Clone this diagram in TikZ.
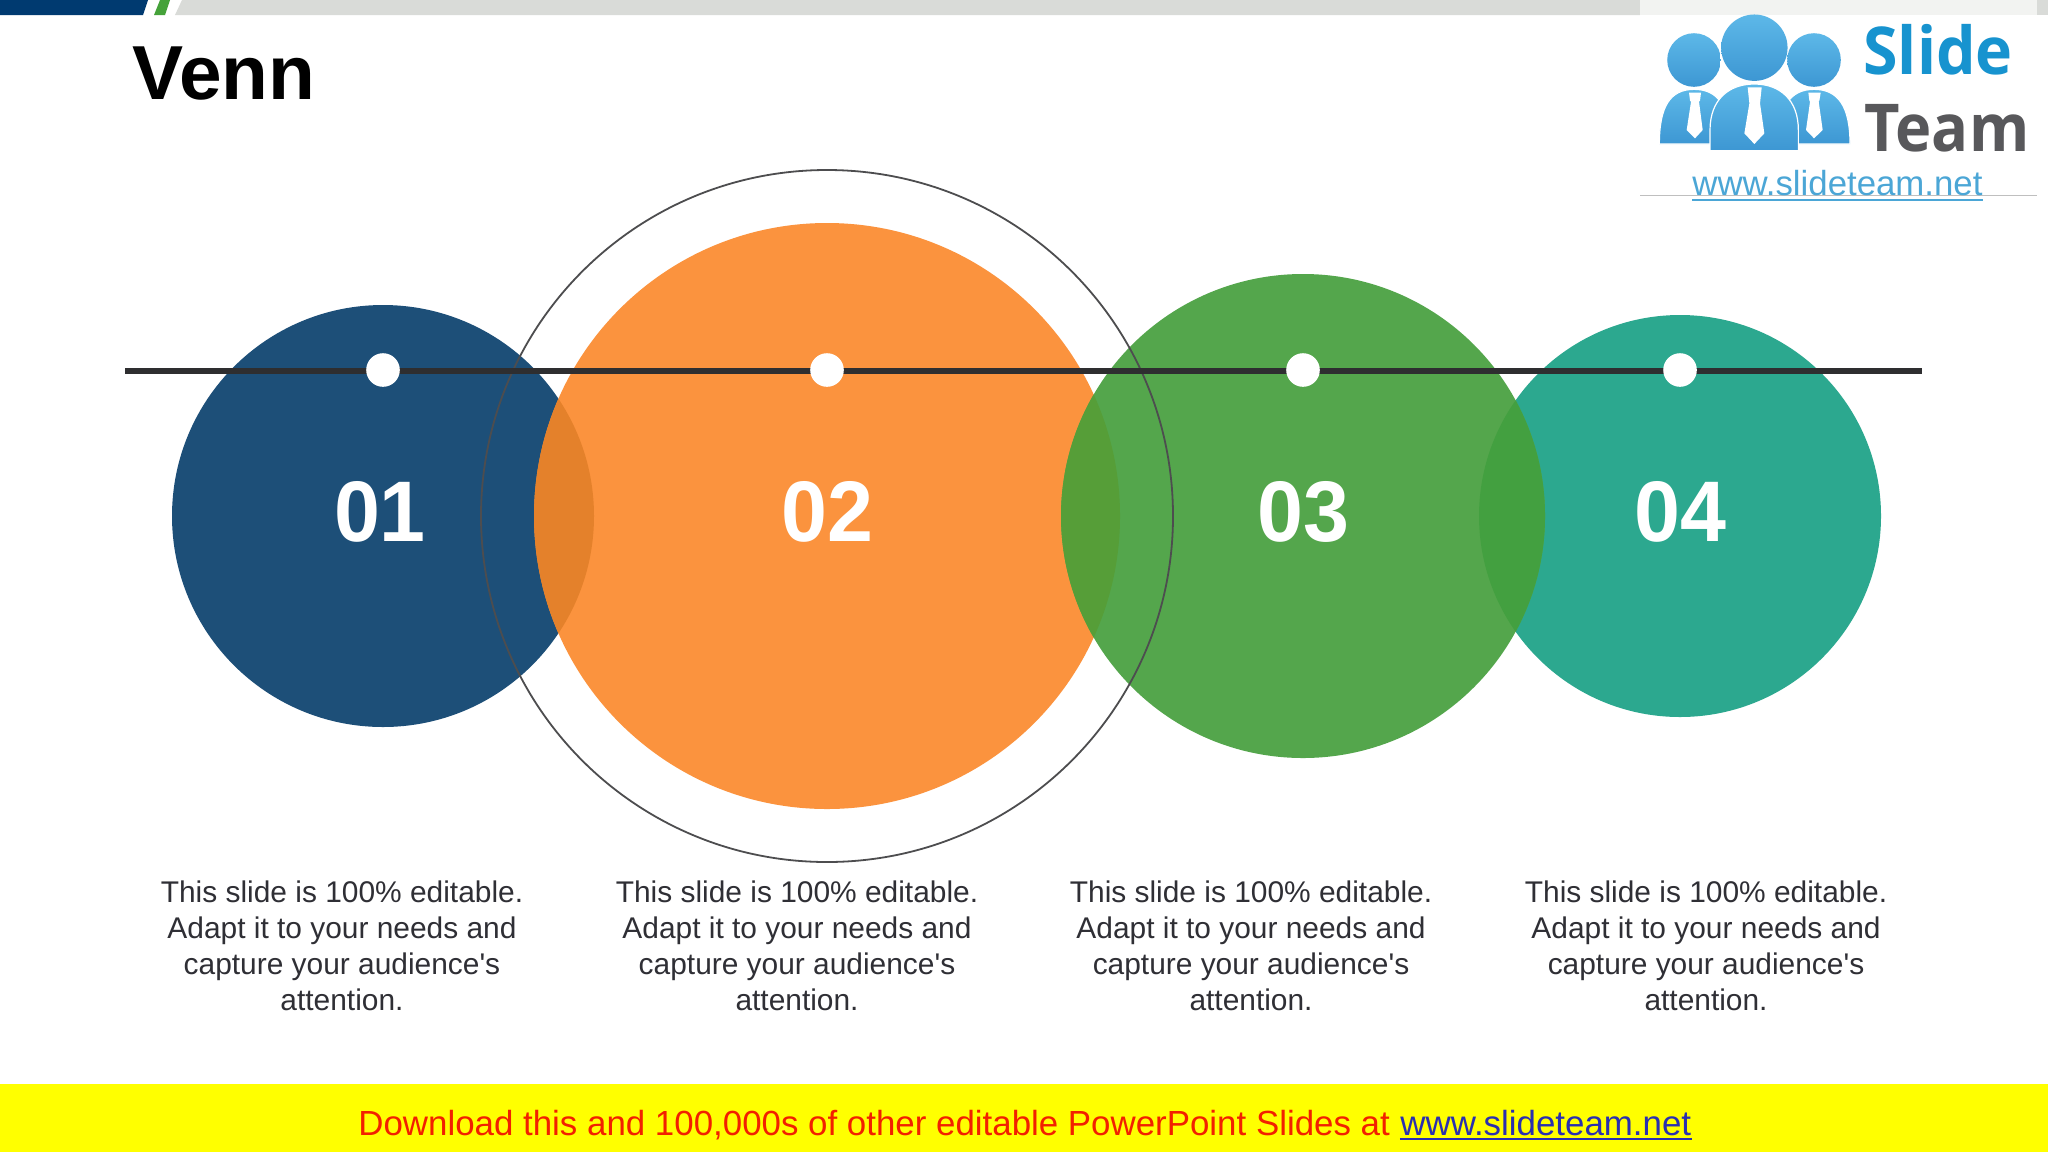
\documentclass[tikz,border=0pt]{standalone}
\usepackage{fontspec}
\setmainfont{Liberation Sans}
\newfontfamily\plainfont{Liberation Sans}
\newfontfamily\logofont{Open Sans}
\definecolor{navy}{HTML}{1D4F78}
\definecolor{topnavy}{HTML}{003A70}
\definecolor{topgreen}{HTML}{45A23A}
\definecolor{topgrey}{HTML}{D9DBD8}
\definecolor{orangeC}{HTML}{FB933E}
\definecolor{orangeNavy}{HTML}{E4812B}
\definecolor{greenC}{HTML}{54A64C}
\definecolor{greenOrange}{HTML}{569E38}
\definecolor{tealC}{HTML}{2CA88F}
\definecolor{greenTeal}{HTML}{43A040}
\definecolor{inkline}{HTML}{2E2E30}
\definecolor{bodyink}{HTML}{2F2F35}
\definecolor{logolight}{HTML}{5DB8E8}
\definecolor{logodark}{HTML}{3D97D3}
\definecolor{logoslide}{HTML}{1793CF}
\definecolor{logoteam}{HTML}{58585B}
\definecolor{urlblue}{HTML}{4BA6D6}
\definecolor{footyellow}{HTML}{FFFF00}
\definecolor{footred}{HTML}{F22000}
\definecolor{footblue}{HTML}{2A2FB0}
\tikzset{
  numlabel/.style={text=white,font=\fontsize{43}{48}\selectfont\bfseries,inner sep=0pt,xscale=.96,transform shape},
  bodytext/.style={text=bodyink,font=\plainfont\fontsize{14.95}{17.85}\selectfont,align=center,anchor=base,inner sep=0pt},
  dotmark/.style={fill=white},
  head/.style={top color=logolight,bottom color=logodark,draw=none},
  torso/.style={top color=logolight,bottom color=logodark,draw=white,line width=.6pt},
  tie/.style={fill=white,draw=none},
  footfont/.style={inner sep=0pt,anchor=base west,font=\fontsize{17.44}{20}\selectfont}
}
\begin{document}
\begin{tikzpicture}[x=0.5pt,y=-0.5pt]
\useasboundingbox (0,0) rectangle (2048,1152);
\fill[white] (0,0) rectangle (2048,1152);
% top band
\fill[topgrey] (182,0) -- (1640,0) -- (1640,15) -- (175,15) -- cycle;
\fill[topgrey] (2037,0) rectangle (2048,15);
\fill[topgrey!35!white] (1640,0) rectangle (2037,15);
\fill[topnavy] (0,0) -- (148,0) -- (143,15) -- (0,15) -- cycle;
\fill[topgreen] (160,0) -- (170,0) -- (165,15) -- (154,15) -- cycle;
% title
\node[anchor=base west,inner sep=0pt,font=\fontsize{38.3}{44}\selectfont\bfseries,text=black] (title) at (132,99) {Venn};
% circles
\fill[navy] (383,516) circle[radius=105.5pt];
\fill[orangeC] (827,516) circle[radius=146.5pt];
\begin{scope}
  \clip (383,516) circle[radius=105.5pt];
  \fill[orangeNavy] (827,516) circle[radius=146.5pt];
\end{scope}
\fill[tealC] (1680,516) circle[radius=100.5pt];
\fill[greenC] (1303,516) circle[radius=121pt];
\begin{scope}
  \clip (1303,516) circle[radius=121pt];
  \fill[greenOrange] (827,516) circle[radius=146.5pt];
  \fill[greenTeal] (1680,516) circle[radius=100.5pt];
\end{scope}
% ring
\draw[line width=.9pt,color=inkline!85!white] (827,516) circle[radius=173pt];
% horizontal line with dots
\coordinate (lineL) at (125,371);
\coordinate (lineR) at (1922,371);
\draw[line width=3pt,color=inkline] (lineL) -- (lineR);
\foreach \dx in {383,827,1303,1680} {\fill[dotmark] (\dx,370) circle[radius=8.4pt];}
% numbers
\node[numlabel] (n1) at (380,512) {01};
\node[numlabel] (n2) at (827,512) {02};
\node[numlabel] (n3) at (1303,512) {03};
\node[numlabel] (n4) at (1680,512) {04};
% captions
\foreach \nm/\cx in {t1/342,t2/797,t3/1251,t4/1706} {
  \node[bodytext] (\nm) at (\cx,1010) {This slide is 100\% editable.\\Adapt it to your needs and\\capture your audience's\\attention.};
}
% footer
\fill[footyellow] (0,1084) rectangle (2048,1152);
\node[footfont,text=footred] (foot) at (358,1135) {Download this and 100,000s of other editable PowerPoint Slides at};
\node[footfont,text=footblue,xshift=4.8pt] (footurl) at (foot.base east) {www.slideteam.net};
\draw[footblue,line width=.9pt] ([yshift=-2pt]footurl.base west) -- ([yshift=-2pt]footurl.base east);
% logo
\fill[white] (1640,15) rectangle (2037,195);
\draw[line width=.4pt,color=black!25] (1640,195) -- (2037,195);
\begin{scope}[shift={(1620,0)},x=0.16667pt,y=-0.16667pt]
  \shade[head] (222,180) circle[radius=13.4pt];
  \shade[head] (582,180) circle[radius=13.4pt];
  \shade[head] (403,143) circle[radius=16.6pt];
  \shade[torso] (118,432) .. controls (118,320) and (150,268) .. (222,268) .. controls (295,268) and (330,320) .. (330,432) -- cycle;
  \shade[torso] (690,432) .. controls (690,320) and (655,268) .. (582,268) .. controls (510,268) and (475,320) .. (475,432) -- cycle;
  \shade[torso] (270,452) -- (270,390) .. controls (270,300) and (325,252) .. (403,252) .. controls (480,252) and (535,300) .. (535,390) -- (535,452) -- cycle;
  \fill[tie] (207,278) -- (243,278) -- (240,302) -- (237,305) -- (248,390) -- (225,415) -- (200,390) -- (213,305) -- (210,302) -- cycle;
  \fill[tie] (383,262) -- (425,262) -- (420,310) -- (433,400) -- (403,432) -- (373,400) -- (388,310) -- cycle;
  \fill[tie] (565,278) -- (602,278) -- (598,302) -- (596,305) -- (608,390) -- (582,415) -- (558,390) -- (570,305) -- (568,302) -- cycle;
\end{scope}
\node[anchor=base west,inner sep=0pt,xscale=.95,transform shape,text=logoslide,font=\logofont\fontsize{33}{36}\selectfont\bfseries] (slide) at (1863,74) {Slide};
\node[anchor=base west,inner sep=0pt,xscale=.93,transform shape,text=logoteam,font=\logofont\fontsize{33}{36}\selectfont\bfseries] (team) at (1864,151) {Team};
\node[anchor=base west,inner sep=0pt,text=urlblue,font=\fontsize{17.4}{20}\selectfont] (logourl) at (1692,195) {www.slideteam.net};
\draw[urlblue,line width=1pt] ([yshift=-2.4pt]logourl.base west) -- ([yshift=-2.4pt]logourl.base east);
\end{tikzpicture}
\end{document}
